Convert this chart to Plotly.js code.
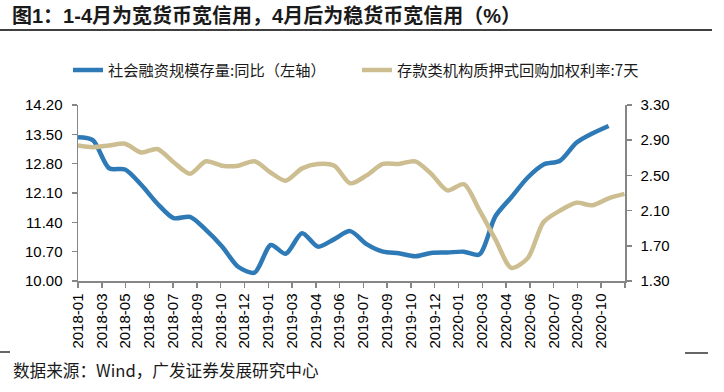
<!DOCTYPE html>
<html>
<head>
<meta charset="utf-8">
<script src="https://cdn.plot.ly/plotly-3.0.1.min.js"></script>
<style>html,body{margin:0;padding:0;background:#fff;}#chart{width:724px;height:392px;}</style>
</head>
<body>
<div id="chart"></div>
<script>
// Month-end dates for both series
const months = [
  '2018-01-31','2018-02-28','2018-03-31','2018-04-30','2018-05-31','2018-06-30',
  '2018-07-31','2018-08-31','2018-09-30','2018-10-31','2018-11-30','2018-12-31',
  '2019-01-31','2019-02-28','2019-03-31','2019-04-30','2019-05-31','2019-06-30',
  '2019-07-31','2019-08-31','2019-09-30','2019-10-31','2019-11-30','2019-12-31',
  '2020-01-31','2020-02-29','2020-03-31','2020-04-30','2020-05-31','2020-06-30',
  '2020-07-31','2020-08-31','2020-09-30','2020-10-31','2020-11-30'
];
// 社会融资规模存量:同比 (left axis), through 2020-10
const tsfGrowth = [
  13.43, 13.36, 12.69, 12.66, 12.29, 11.85,
  11.50, 11.53, 11.22, 10.82, 10.34, 10.20,
  10.86, 10.65, 11.14, 10.82, 11.00, 11.19,
  10.88, 10.70, 10.66, 10.59, 10.67, 10.68,
  10.70, 10.63, 11.55, 12.00, 12.47, 12.78,
  12.87, 13.30, 13.52, 13.70
];
// 存款类机构质押式回购加权利率:7天 (right axis)
const repo7d = [
  2.84, 2.82, 2.84, 2.86, 2.76, 2.80,
  2.65, 2.52, 2.66, 2.61, 2.61, 2.66,
  2.53, 2.44, 2.58, 2.63, 2.61, 2.41,
  2.50, 2.63, 2.63, 2.66, 2.52, 2.33,
  2.40, 2.11, 1.77, 1.45, 1.56, 1.97,
  2.10, 2.19, 2.16, 2.24, 2.29
];
const seriesNames = ['社会融资规模存量:同比（左轴）', '存款类机构质押式回购加权利率:7天'];
const tickDates = [
  '2018-01-31','2018-03-17','2018-05-01','2018-06-15','2018-07-30','2018-09-13',
  '2018-10-28','2018-12-12','2019-01-26','2019-03-12','2019-04-26','2019-06-10',
  '2019-07-25','2019-09-08','2019-10-23','2019-12-07','2020-01-21','2020-03-06',
  '2020-04-20','2020-06-04','2020-07-19','2020-09-02','2020-10-17','2020-12-01'
];
const tickLabels = [
  '2018-01','2018-03','2018-05','2018-06','2018-07','2018-09',
  '2018-10','2018-12','2019-01','2019-03','2019-04','2019-06',
  '2019-07','2019-09','2019-10','2019-12','2020-01','2020-03',
  '2020-04','2020-06','2020-07','2020-09','2020-10',''
];
const titleText = '图1：1-4月为宽货币宽信用，4月后为稳货币宽信用（%）';
const sourceText = '数据来源：Wind，广发证券发展研究中心';

const W = 724, H = 392;
const M = {l: 78, r: 99, t: 105, b: 111};
const PW = W - M.l - M.r, PH = H - M.t - M.b;
const px = x => (x - M.l) / PW;
const py = y => (H - M.b - y) / PH;

const titleFam = "Arial, 'Liberation Sans', 'Noto Sans CJK SC', sans-serif";
const cjkFam = "'Noto Sans CJK SC', Arial, sans-serif";
const num = "Arial, 'Liberation Sans', sans-serif";
const axisColor = '#868686';

// font sizes fitted so the texts span the same width as in the reference
const cv = document.createElement('canvas').getContext('2d');
function fit(text, fam, weight, target, lo, hi) {
  cv.font = weight + ' 100px ' + fam;
  const w = cv.measureText(text).width;
  const s = w > 0 ? 100 * target / w : lo;
  return Math.max(lo, Math.min(hi, s));
}
const titleSize = fit(titleText, titleFam, 'bold', 509, 16, 23);
const legendSize = fit(seriesNames[0], cjkFam, 'normal', 218, 13, 17);
const sourceSize = fit(sourceText, cjkFam, 'normal', 306, 13, 18);

const traces = [
  {
    x: months.slice(0, tsfGrowth.length), y: tsfGrowth, name: seriesNames[0],
    type: 'scatter', mode: 'lines', yaxis: 'y', legend: 'legend',
    line: {color: '#2E7AB6', width: 4.5, shape: 'spline', smoothing: 0.8}
  },
  {
    x: months.slice(0, repo7d.length), y: repo7d, name: seriesNames[1],
    type: 'scatter', mode: 'lines', yaxis: 'y2', legend: 'legend2',
    line: {color: '#CCBE90', width: 4.5, shape: 'spline', smoothing: 0.8}
  }
];

const axisCommon = {
  showline: true, linecolor: axisColor, linewidth: 1.5,
  ticks: 'outside', ticklen: 5, tickcolor: axisColor, tickwidth: 1.5,
  showgrid: false, zeroline: false, fixedrange: true
};
const legendCommon = {
  orientation: 'h', y: py(70), xanchor: 'left', yanchor: 'middle',
  font: {family: cjkFam, size: legendSize, color: '#1a1a1a'},
  bgcolor: 'rgba(0,0,0,0)'
};

const layout = {
  width: W, height: H,
  margin: M,
  paper_bgcolor: '#fff', plot_bgcolor: '#fff',
  showlegend: true,
  title: {
    text: '<b>' + titleText + '</b>',
    xref: 'container', yref: 'container',
    x: 12 / W, y: 1 - 16 / H, xanchor: 'left', yanchor: 'middle',
    font: {family: titleFam, size: titleSize, color: '#1a1a1a'}
  },
  legend: Object.assign({x: px(68)}, legendCommon),
  legend2: Object.assign({x: px(357)}, legendCommon),
  xaxis: Object.assign({
    type: 'date',
    range: [tickDates[0], tickDates[tickDates.length - 1]],
    tickmode: 'array', tickvals: tickDates, ticktext: tickLabels,
    tickangle: -90,
    tickfont: {family: num, size: 15, color: '#000'}
  }, axisCommon),
  yaxis: Object.assign({
    range: [10, 14.2], tick0: 10, dtick: 0.7, tickformat: '.2f',
    ticklabelstandoff: 6,
    tickfont: {family: num, size: 15, color: '#000'}
  }, axisCommon),
  yaxis2: Object.assign({
    overlaying: 'y', side: 'right',
    range: [1.3, 3.3], tick0: 1.3, dtick: 0.4, tickformat: '.2f',
    ticklabelstandoff: 6,
    tickfont: {family: num, size: 15, color: '#000'}
  }, axisCommon),
  shapes: [
    {type: 'line', xref: 'paper', yref: 'paper', x0: px(0), x1: px(712), y0: py(30), y1: py(30),
     line: {color: '#000', width: 1.5}},
    {type: 'line', xref: 'paper', yref: 'paper', x0: px(0), x1: px(10), y0: py(352), y1: py(352),
     line: {color: '#000', width: 1.2}},
    {type: 'line', xref: 'paper', yref: 'paper', x0: px(685), x1: px(708), y0: py(353), y1: py(353),
     line: {color: '#000', width: 1.2}}
  ],
  annotations: [
    {text: sourceText, xref: 'paper', yref: 'paper', x: px(11), y: py(370),
     xanchor: 'left', yanchor: 'middle', showarrow: false,
     font: {family: cjkFam, size: sourceSize, color: '#1a1a1a'}}
  ]
};

Plotly.newPlot('chart', traces, layout, {displayModeBar: false, staticPlot: true});
</script>
</body>
</html>
